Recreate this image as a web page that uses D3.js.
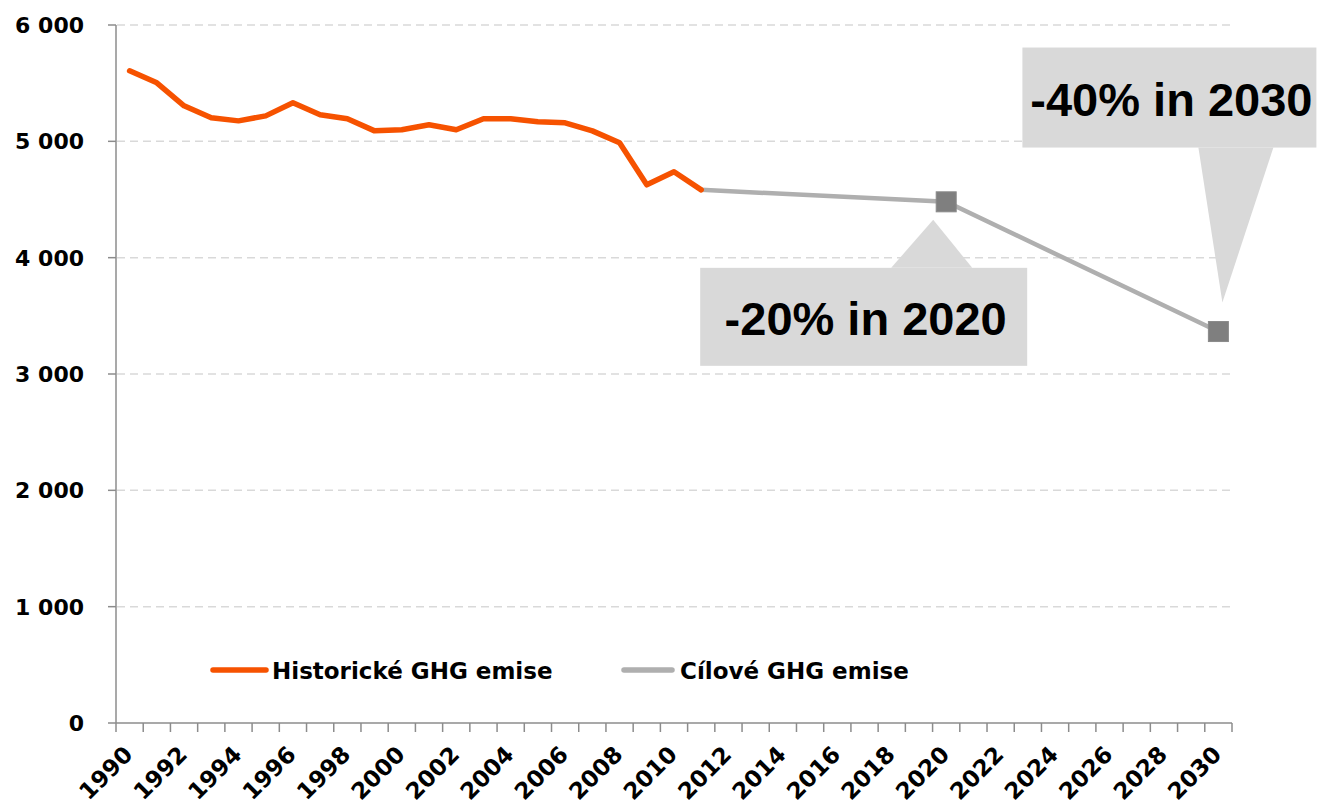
<!DOCTYPE html>
<html>
<head>
<meta charset="utf-8">
<script src="https://cdn.jsdelivr.net/npm/d3@7/dist/d3.min.js"></script>
<style>
  html, body { margin: 0; padding: 0; background: #fff; }
  svg { display: block; }
  .axis-label { font-family: "DejaVu Sans", sans-serif; font-weight: bold; fill: #000; }
  .callout-text { font-family: "Liberation Sans", Arial, sans-serif; font-weight: bold; fill: #000; }
</style>
</head>
<body>
<svg id="chart" width="1319" height="809"></svg>
<script>
// categories: every year on the axis
const years = d3.range(1990, 2031);
const yTicks = [0, 1000, 2000, 3000, 4000, 5000, 6000];

// historical emissions 1990-2011
const historicYears = d3.range(1990, 2012);
const historicValues = [
  5606, 5503, 5305, 5202, 5176, 5219, 5331, 5228, 5194, 5090, 5099,
  5142, 5099, 5194, 5194, 5168, 5159, 5090, 4987, 4626, 4738, 4583
];

// target path
const targetYears = [2011, 2020, 2030];
const targetValues = [4583, 4480, 3365];
const markerYears = [2020, 2030];

const seriesNames = ["Historické GHG emise", "Cílové GHG emise"];
const calloutLabels = ["-20% in 2020", "-40% in 2030"];

const svg = d3.select("#chart");
const plotLeft = 116, plotRight = 1232, plotTop = 25, plotBottom = 723;

const x = d3.scaleBand().domain(years).range([plotLeft, plotRight]).padding(0);
const cx = (yr) => x(yr) + x.bandwidth() / 2;
const y = d3.scaleLinear().domain([0, 6000]).range([plotBottom, plotTop]);

const fmt = (v) => d3.format(",")(v).replace(/,/g, " ");

// gridlines
svg.append("g")
  .selectAll("line")
  .data(yTicks.filter((d) => d > 0))
  .join("line")
  .attr("x1", plotLeft + 1)
  .attr("x2", plotRight)
  .attr("y1", (d) => y(d))
  .attr("y2", (d) => y(d))
  .attr("stroke", "#d9d9d9")
  .attr("stroke-width", 1.5)
  .attr("stroke-dasharray", "8,5");

// y axis
const yAxis = svg.append("g");
yAxis.append("line")
  .attr("x1", plotLeft).attr("x2", plotLeft)
  .attr("y1", y(6000)).attr("y2", y(0))
  .attr("stroke", "#8c8c8c").attr("stroke-width", 1.5);
yAxis.selectAll("line.tick")
  .data(yTicks)
  .join("line")
  .attr("class", "tick")
  .attr("x1", plotLeft - 8).attr("x2", plotLeft)
  .attr("y1", (d) => y(d)).attr("y2", (d) => y(d))
  .attr("stroke", "#8c8c8c").attr("stroke-width", 1.5);
yAxis.selectAll("text")
  .data(yTicks)
  .join("text")
  .attr("class", "axis-label")
  .attr("x", 84)
  .attr("y", (d) => y(d) + 8)
  .attr("text-anchor", "end")
  .style("font-size", "22px")
  .text(fmt);

// x axis
const xAxis = svg.append("g");
xAxis.append("line")
  .attr("x1", plotLeft).attr("x2", plotRight)
  .attr("y1", plotBottom).attr("y2", plotBottom)
  .attr("stroke", "#8c8c8c").attr("stroke-width", 1.5);
xAxis.selectAll("line.tick")
  .data(years.concat([2031]))
  .join("line")
  .attr("class", "tick")
  .attr("x1", (d) => (d === 2031 ? plotRight : x(d)))
  .attr("x2", (d) => (d === 2031 ? plotRight : x(d)))
  .attr("y1", plotBottom).attr("y2", plotBottom + 9)
  .attr("stroke", "#8c8c8c").attr("stroke-width", 1.5);
xAxis.selectAll("text")
  .data(years.filter((d) => d % 2 === 0))
  .join("text")
  .attr("class", "axis-label")
  .attr("text-anchor", "end")
  .attr("transform", (d) => `translate(${cx(d) + 4.5},${plotBottom + 33}) rotate(-45)`)
  .style("font-size", "23px")
  .text((d) => d);

// lines
const line = d3.line().x((d) => cx(d.year)).y((d) => y(d.value));

const historic = historicYears.map((yr, i) => ({ year: yr, value: historicValues[i] }));
const target = targetYears.map((yr, i) => ({ year: yr, value: targetValues[i] }));

svg.append("path")
  .datum(target)
  .attr("d", line)
  .attr("fill", "none")
  .attr("stroke", "#afafaf")
  .attr("stroke-width", 4.5);

svg.append("path")
  .datum(historic)
  .attr("d", line)
  .attr("fill", "none")
  .attr("stroke", "#f65200")
  .attr("stroke-width", 5.5)
  .attr("stroke-linejoin", "round")
  .attr("stroke-linecap", "round");

svg.append("g")
  .selectAll("rect")
  .data(target.filter((d) => markerYears.includes(d.year)))
  .join("rect")
  .attr("x", (d) => cx(d.year) - 10)
  .attr("y", (d) => y(d.value) - 10)
  .attr("width", 20)
  .attr("height", 20)
  .attr("fill", "#7f7f7f")
  .attr("stroke", "#8a8a8a")
  .attr("stroke-width", 1);

// callouts, offsets relative to their marker
const calloutGeom = [
  { box: [-246, 66, 81, 164], base: [-55, 26], tip: [-13, 18] },
  { box: [-196, -284, 98, -184], base: [-20, 55], tip: [4, -29] }
];

markerYears.forEach((yr, i) => {
  const px = cx(yr);
  const py = y(targetValues[targetYears.indexOf(yr)]);
  const g = calloutGeom[i];
  const baseY = g.tip[1] > 0 ? g.box[1] : g.box[3];
  const grp = svg.append("g");
  grp.append("rect")
    .attr("x", px + g.box[0])
    .attr("y", py + g.box[1])
    .attr("width", g.box[2] - g.box[0])
    .attr("height", g.box[3] - g.box[1])
    .attr("fill", "#d9d9d9");
  grp.append("path")
    .attr("d", `M${px + g.base[0]},${py + baseY} L${px + g.tip[0]},${py + g.tip[1]} L${px + g.base[1]},${py + baseY} Z`)
    .attr("fill", "#d9d9d9");
  grp.append("text")
    .attr("class", "callout-text")
    .attr("x", px + (g.box[0] + g.box[2]) / 2 + 2)
    .attr("y", py + (g.box[1] + g.box[3]) / 2 + 18)
    .attr("text-anchor", "middle")
    .style("font-size", "47px")
    .text(calloutLabels[i]);
});

// legend
const legendItems = [
  { name: seriesNames[0], color: "#f65200", x0: 213, x1: 266, tx: 272 },
  { name: seriesNames[1], color: "#afafaf", x0: 624, x1: 672, tx: 680 }
];
const legend = svg.append("g");
legendItems.forEach((item) => {
  legend.append("line")
    .attr("x1", item.x0).attr("x2", item.x1)
    .attr("y1", 670).attr("y2", 670)
    .attr("stroke", item.color)
    .attr("stroke-width", 5.5)
    .attr("stroke-linecap", "round");
  legend.append("text")
    .attr("class", "axis-label")
    .attr("x", item.tx)
    .attr("y", 679)
    .style("font-size", "23px")
    .text(item.name);
});
</script>
</body>
</html>
